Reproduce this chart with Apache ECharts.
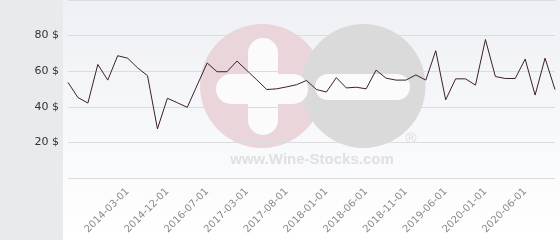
<!DOCTYPE html>
<html>
<head>
<meta charset="utf-8">
<script src="https://cdn.jsdelivr.net/npm/echarts@6/dist/echarts.min.js"></script>
<style>html,body{margin:0;padding:0;background:#fff}#c{width:560px;height:240px}</style>
</head>
<body>
<div id="c"></div>
<script>
var categories = ['2013-06-01','2013-08-01','2013-09-01','2013-11-01','2013-12-01','2014-01-01',
  '2014-03-01','2014-05-01','2014-07-01','2014-09-01',
  '2014-12-01','2015-03-01','2015-08-01','2016-01-01',
  '2016-07-01','2016-09-01','2016-11-01','2017-01-01',
  '2017-03-01','2017-04-01','2017-05-01','2017-07-01',
  '2017-08-01','2017-09-01','2017-10-01','2017-12-01',
  '2018-01-01','2018-02-01','2018-03-01','2018-05-01',
  '2018-06-01','2018-07-01','2018-09-01','2018-10-01',
  '2018-11-01','2019-01-01','2019-02-01','2019-04-01',
  '2019-06-01','2019-08-01','2019-09-01','2019-11-01',
  '2020-01-01','2020-02-01','2020-03-01','2020-05-01',
  '2020-06-01','2020-07-01','2020-09-01','2020-10-01'];
var prices = [53.7,45.2,42.1,63.8,55,68.7,67.3,61.9,57.5,27.6,
  44.8,42.3,39.7,52.2,64.6,59.7,59.7,65.7,60.4,55.1,
  49.7,50.1,51.2,52.4,54.8,49.7,48.3,56.4,50.6,51,
  50.1,60.6,56.1,55,55,57.9,55,71.5,43.9,55.7,
  55.7,52.2,77.8,57,55.9,55.9,66.8,46.6,67.3,49.7];
var shownLabels = ['2014-03-01','2014-12-01','2016-07-01','2017-03-01','2017-08-01','2018-01-01',
  '2018-06-01','2018-11-01','2019-06-01','2020-01-01','2020-06-01'];
var yTicks = [20, 40, 60, 80];

var chart = echarts.init(document.getElementById('c'), null, {renderer: 'canvas'});
chart.setOption({
  animation: false,
  backgroundColor: '#ffffff',
  grid: {left: 68, right: 5, top: -6, bottom: 62, containLabel: false},
  graphic: [
    {type: 'rect', z: -100, silent: true, shape: {x: 63, y: 0, width: 497, height: 240},
     style: {fill: new echarts.graphic.LinearGradient(0, 0, 0, 1, [{offset: 0, color: '#eef0f5'}, {offset: 1, color: '#ffffff'}])}},
    {type: 'rect', z: -100, silent: true, shape: {x: 0, y: 0, width: 63, height: 240}, style: {fill: '#e7ebee'}},
    {type: 'circle', z: -90, silent: true, shape: {cx: 262, cy: 86, r: 62}, style: {fill: '#ead5da'}},
    {type: 'circle', z: -89, silent: true, shape: {cx: 363.5, cy: 86, r: 62}, style: {fill: '#dadadb'}},
    {type: 'rect', z: -88, silent: true, shape: {x: 248, y: 38, width: 30, height: 97, r: 15}, style: {fill: '#fbfbfc'}},
    {type: 'rect', z: -88, silent: true, shape: {x: 216, y: 74, width: 92, height: 30, r: 15}, style: {fill: '#fbfbfc'}},
    {type: 'rect', z: -88, silent: true, shape: {x: 315, y: 74, width: 95, height: 26, r: 13}, style: {fill: '#fbfbfc'}},
    {type: 'text', z: -88, silent: true, x: 312, y: 160,
     style: {text: 'www.Wine-Stocks.com', font: 'bold 15px "Liberation Sans", Arial, sans-serif', fill: '#dfe0e2', align: 'center', verticalAlign: 'middle'}},
    {type: 'text', z: -88, silent: true, x: 411, y: 139,
     style: {text: '®', font: '15px "Liberation Sans", Arial, sans-serif', fill: '#d9d9da', align: 'center', verticalAlign: 'middle'}}
  ],
  xAxis: {
    type: 'category',
    data: categories,
    boundaryGap: false,
    axisLine: {show: false},
    axisTick: {show: false},
    splitLine: {show: false},
    axisLabel: {
      rotate: 45,
      margin: 12,
      color: '#8a8a8a',
      fontFamily: 'DejaVu Sans',
      fontSize: 10,
      interval: function (idx, val) { return shownLabels.indexOf(val) >= 0; }
    }
  },
  yAxis: {
    type: 'value',
    min: 0, max: 100, interval: 20,
    axisLine: {show: false},
    axisTick: {show: false},
    splitLine: {lineStyle: {color: '#dcdcdf', width: 1}},
    axisLabel: {
      margin: 9,
      color: '#333333',
      fontFamily: 'DejaVu Sans',
      fontSize: 11,
      formatter: function (v) { return yTicks.indexOf(v) >= 0 ? v + ' $' : ''; }
    }
  },
  series: [{
    type: 'line',
    data: prices,
    showSymbol: false,
    symbol: 'none',
    lineStyle: {color: '#3d1f2d', width: 1},
    z: 5
  }]
});
</script>
</body>
</html>
